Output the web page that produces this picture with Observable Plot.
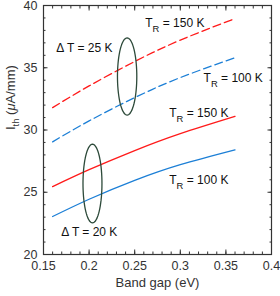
<!DOCTYPE html>
<html><head><meta charset="utf-8">
<script src="https://cdn.jsdelivr.net/npm/d3@7"></script>
<script src="https://cdn.jsdelivr.net/npm/@observablehq/plot@0.6"></script>
<style>body{margin:0;background:#fff} svg{display:block}</style>
</head><body><div id="chart"></div>
<script>
// Data
const bandGap = [0.16, 0.2, 0.25, 0.3, 0.36];
const dT25_TR150 = [31.8, 33.54, 35.5, 37.22, 38.95];
const dT25_TR100 = [29.05, 30.73, 32.6, 34.21, 35.8];
const dT20_TR150 = [25.45, 26.81, 28.35, 29.71, 31.1];
const dT20_TR100 = [23.05, 24.44, 25.95, 27.21, 28.4];

const xTicks = [0.15, 0.2, 0.25, 0.3, 0.35, 0.4];
const yTicks = [20, 25, 30, 35, 40];
const xMinor = d3.range(15, 41).map(d => d / 100);
const yMinor = d3.range(20, 41);

// Ellipses: center x, center y, radius x, radius y (data units)
const ellCx = [0.2417, 0.2037];
const ellCy = [34.3, 25.7];
const ellRx = [0.0106, 0.0104];
const ellRy = [3.1, 3.16];

const annText = ["Δ T = 25 K", "T_{R} = 150 K", "T_{R} = 100 K", "T_{R} = 150 K", "T_{R} = 100 K", "Δ T = 20 K"];
const annX = [0.1948, 0.294, 0.358, 0.3203, 0.3203, 0.2002];
const annY = [36.55, 38.55, 34.15, 31.35, 25.95, 21.77];

const RED = "#ff1a1a", BLUE = "#1c7fd6", ELL = "#2d4a3a";

const series = [
  {vals: dT25_TR150, color: RED, dash: "8,4"},
  {vals: dT25_TR100, color: BLUE, dash: "8,4"},
  {vals: dT20_TR150, color: RED, dash: null},
  {vals: dT20_TR100, color: BLUE, dash: null}
];
const lineMarks = series.map(s => Plot.line(bandGap.map((x, i) => ({x, y: s.vals[i]})), {
  x: "x", y: "y", stroke: s.color, strokeWidth: 1.3, strokeDasharray: s.dash, curve: "natural"
}));

const ellMarks = ellCx.map((cx, k) => {
  const pts = d3.range(0, 72).map(i => {
    const a = i / 72 * 2 * Math.PI;
    return {x: cx + ellRx[k] * Math.cos(a), y: ellCy[k] + ellRy[k] * Math.sin(a)};
  });
  return Plot.line(pts, {x: "x", y: "y", stroke: ELL, strokeWidth: 1.3, curve: "linear-closed"});
});

const annData = annText.map((t, i) => ({t, x: annX[i], y: annY[i]}));

const chart = Plot.plot({
  width: 280, height: 296,
  marginLeft: 43, marginRight: 9, marginTop: 5, marginBottom: 42,
  style: {fontFamily: "Liberation Sans, Arial, sans-serif", fontSize: "12px", color: "#222", background: "#fff"},
  x: {domain: [0.15, 0.4]},
  y: {domain: [20, 40]},
  marks: [
    ...lineMarks,
    ...ellMarks,
    Plot.text(annData, {x: "x", y: "y", text: "t", fontSize: 12, fill: "#111", textAnchor: "middle"}),
    // minor ticks (inside, all sides)
    Plot.axisX({ticks: xMinor, anchor: "bottom", tickSize: -2.5, tickFormat: () => "", label: null, stroke: "#333"}),
    Plot.axisX({ticks: xMinor, anchor: "top", tickSize: -2.5, tickFormat: () => "", label: null, stroke: "#333"}),
    Plot.axisY({ticks: yMinor, anchor: "left", tickSize: -2.5, tickFormat: () => "", label: null, stroke: "#333"}),
    Plot.axisY({ticks: yMinor, anchor: "right", tickSize: -2.5, tickFormat: () => "", label: null, stroke: "#333"}),
    // major ticks
    Plot.axisX({ticks: xTicks, anchor: "bottom", tickSize: -4.5, tickFormat: () => "", label: null, stroke: "#333"}),
    Plot.axisX({ticks: xTicks, anchor: "top", tickSize: -4.5, tickFormat: () => "", label: null, stroke: "#333"}),
    Plot.axisY({ticks: yTicks, anchor: "left", tickSize: -4.5, tickFormat: () => "", label: null, stroke: "#333"}),
    Plot.axisY({ticks: yTicks, anchor: "right", tickSize: -4.5, tickFormat: () => "", label: null, stroke: "#333"}),
    // tick labels
    Plot.axisX({ticks: xTicks, anchor: "bottom", tickSize: 0, tickPadding: 7, tickFormat: d => String(d), label: null, fill: "#333", fontSize: 12.5}),
    Plot.axisY({ticks: yTicks, anchor: "left", tickSize: 0, tickPadding: 6, tickFormat: d => String(d), label: null, fill: "#333", fontSize: 12.5}),
    Plot.frame({stroke: "#333", strokeWidth: 1.2}),
    // axis titles
    Plot.text(["Band gap (eV)"], {frameAnchor: "bottom", dy: 32, text: d => d, fontSize: 13, fill: "#333"}),
    Plot.text(["I_{th} (μA/mm)"], {frameAnchor: "left", dx: -33, rotate: -90, text: d => d, fontSize: 13, fill: "#333"})
  ]
});

// Render subscripts and italic μ as real tspans
chart.querySelectorAll("text").forEach(t => {
  const s = t.textContent;
  if (!/_\{|μ/.test(s) || t.children.length) return;
  const parts = s.split(/(_\{[^}]*\}|μ)/).filter(p => p !== "");
  t.textContent = "";
  const fs = parseFloat(t.getAttribute("font-size")) || 13;
  let shifted = false;
  parts.forEach(p => {
    const sp = document.createElementNS("http://www.w3.org/2000/svg", "tspan");
    if (p.startsWith("_{")) {
      sp.textContent = p.slice(2, -1);
      sp.setAttribute("font-size", (fs * 0.72).toFixed(1));
      sp.setAttribute("dy", (fs * 0.35).toFixed(1));
      shifted = true;
    } else {
      sp.textContent = p;
      if (shifted) { sp.setAttribute("dy", (-fs * 0.35).toFixed(1)); shifted = false; }
      if (p === "μ") sp.setAttribute("font-style", "italic");
    }
    t.appendChild(sp);
  });
});

document.getElementById("chart").appendChild(chart);
</script>
</body></html>
